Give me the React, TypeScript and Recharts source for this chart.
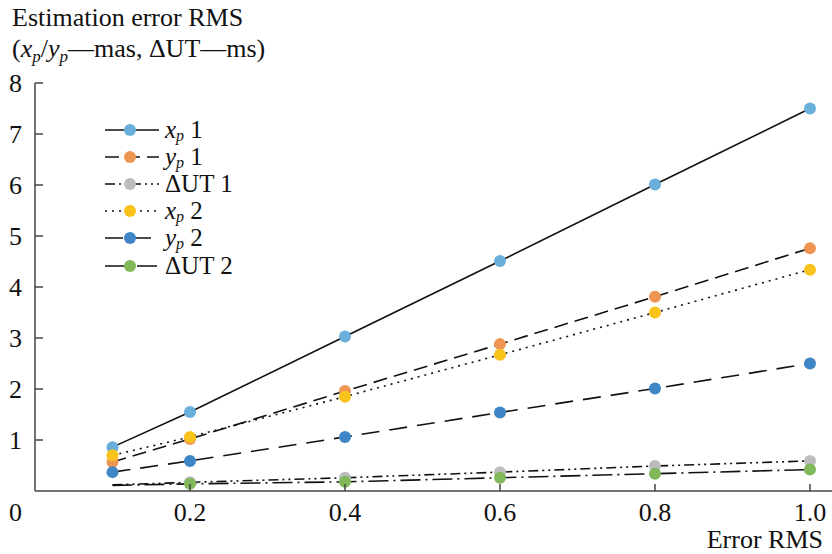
import React from "react";
import { LineChart, Line, XAxis, YAxis } from "recharts";

const errorRms = [0.1, 0.2, 0.4, 0.6, 0.8, 1.0];
const xp1 = [0.86, 1.55, 3.03, 4.51, 6.01, 7.5];
const yp1 = [0.57, 1.02, 1.96, 2.88, 3.81, 4.76];
const dut1 = [0.12, 0.17, 0.26, 0.37, 0.49, 0.59];
const xp2 = [0.7, 1.06, 1.85, 2.67, 3.5, 4.34];
const yp2 = [0.37, 0.59, 1.06, 1.54, 2.01, 2.5];
const dut2 = [0.11, 0.14, 0.18, 0.26, 0.34, 0.42];

const xTicks = [0.2, 0.4, 0.6, 0.8, 1.0];
const yTicks = [0, 1, 2, 3, 4, 5, 6, 7, 8];

const FONT = '"Liberation Serif", "DejaVu Serif", serif';
const FS = 26;

const series = [
  { key: "xp1", sym: "x", num: "1", color: "#6aaedc", dash: undefined, values: xp1, skipFirst: false },
  { key: "yp1", sym: "y", num: "1", color: "#ee9552", dash: "14 7", values: yp1, skipFirst: false },
  { key: "dut1", sym: "ΔUT", num: "1", color: "#bdbdbd", dash: "10 4 2 4 2 4", values: dut1, skipFirst: true },
  { key: "xp2", sym: "x", num: "2", color: "#f9c31c", dash: "2 5", values: xp2, skipFirst: false },
  { key: "yp2", sym: "y", num: "2", color: "#3f86c6", dash: "18 10", values: yp2, skipFirst: false },
  { key: "dut2", sym: "ΔUT", num: "2", color: "#80b85a", dash: "20 5 2 5", values: dut2, skipFirst: true },
];

const data = errorRms.map((x, i) => {
  const row: Record<string, number> = { x };
  series.forEach((s) => (row[s.key] = s.values[i]));
  return row;
});

const subStyle = { fontSize: 17, fontStyle: "italic", verticalAlign: "-5px", lineHeight: 0 } as const;
const legendSub = { fontSize: 16, fontStyle: "italic", verticalAlign: "-3px", lineHeight: 0 } as const;

function SeriesName({ sym, num }: { sym: string; num: string }) {
  if (sym === "ΔUT") return <span>ΔUT {num}</span>;
  return (
    <span>
      <i>{sym}</i>
      <span style={legendSub}>p</span> {num}
    </span>
  );
}

function LegendBox() {
  return (
    <div style={{ position: "absolute", left: 103, top: 116, fontFamily: FONT, fontSize: 25, color: "#111", zIndex: 2 }}>
      {series.map((s) => (
        <div key={s.key} style={{ display: "flex", alignItems: "center", height: 27.2 }}>
          <svg width={58} height={20}>
            <line x1={2} x2={56} y1={10} y2={10} stroke="#111" strokeWidth={1.6} strokeDasharray={s.dash} />
            <circle cx={27} cy={10} r={6} fill={s.color} />
          </svg>
          <div style={{ marginLeft: 4, lineHeight: "24px", whiteSpace: "nowrap" }}>
            <SeriesName sym={s.sym} num={s.num} />
          </div>
        </div>
      ))}
    </div>
  );
}

// eslint-disable-next-line @typescript-eslint/no-explicit-any
const XTick = (props: any) => {
  const { x, y, payload } = props;
  return (
    <g>
      <line x1={x} x2={x} y1={y} y2={y - 7} stroke="#444" strokeWidth={1.5} />
      <text x={x} y={y + 30} textAnchor="middle" fontFamily={FONT} fontSize={FS} fill="#111">
        {Number(payload.value).toFixed(1)}
      </text>
    </g>
  );
};

// eslint-disable-next-line @typescript-eslint/no-explicit-any
const YTick = (props: any) => {
  const { x, y, payload } = props;
  if (payload.value === 0) {
    return (
      <text x={x - 13} y={y + 30} textAnchor="end" fontFamily={FONT} fontSize={FS} fill="#111">
        0
      </text>
    );
  }
  return (
    <g>
      <line x1={x} x2={x + 8} y1={y} y2={y} stroke="#444" strokeWidth={1.5} />
      <text x={x - 13} y={y + 9} textAnchor="end" fontFamily={FONT} fontSize={FS} fill="#111">
        {payload.value}
      </text>
    </g>
  );
};

function makeDot(color: string, skipFirst: boolean) {
  // eslint-disable-next-line @typescript-eslint/no-explicit-any
  return (p: any) => {
    if (skipFirst && p.index === 0) return <g key={`d-${p.index}`} />;
    return <circle key={`d-${p.index}`} cx={p.cx} cy={p.cy} r={6} fill={color} />;
  };
}

export default function App() {
  return (
    <div style={{ position: "absolute", left: 0, top: 0, width: 832, height: 554, background: "#fff" }}>
      <div style={{ position: "absolute", left: 12, top: 2, fontFamily: FONT, fontSize: FS, color: "#111", lineHeight: "31px", zIndex: 2, whiteSpace: "nowrap" }}>
        <div>Estimation error RMS</div>
        <div>
          (<i>x</i>
          <span style={subStyle}>p</span>/<i>y</i>
          <span style={subStyle}>p</span>—mas, ΔUT—ms)
        </div>
      </div>
      <div style={{ position: "absolute", right: 9, top: 524, fontFamily: FONT, fontSize: FS, color: "#111", lineHeight: "31px", zIndex: 2 }}>
        Error RMS
      </div>
      <LegendBox />
      <LineChart width={832} height={554} data={data} margin={{ top: 83, right: 0, bottom: 0, left: 0 }}>
        <XAxis
          type="number"
          dataKey="x"
          domain={[0, 1.0284]}
          allowDataOverflow
          ticks={xTicks}
          height={63}
          tickSize={0}
          tickMargin={0}
          tickLine={false}
          tick={XTick}
          axisLine={{ stroke: "#444", strokeWidth: 1.5 }}
        />
        <YAxis
          type="number"
          domain={[0, 8]}
          ticks={yTicks}
          width={35}
          tickSize={0}
          tickMargin={0}
          tickLine={false}
          tick={YTick}
          axisLine={{ stroke: "#444", strokeWidth: 1.5 }}
        />
        {series.map((s) => (
          <Line
            key={s.key}
            type="linear"
            dataKey={s.key}
            stroke="#111"
            strokeWidth={1.6}
            strokeDasharray={s.dash}
            dot={makeDot(s.color, s.skipFirst)}
            activeDot={false}
            isAnimationActive={false}
          />
        ))}
      </LineChart>
    </div>
  );
}
